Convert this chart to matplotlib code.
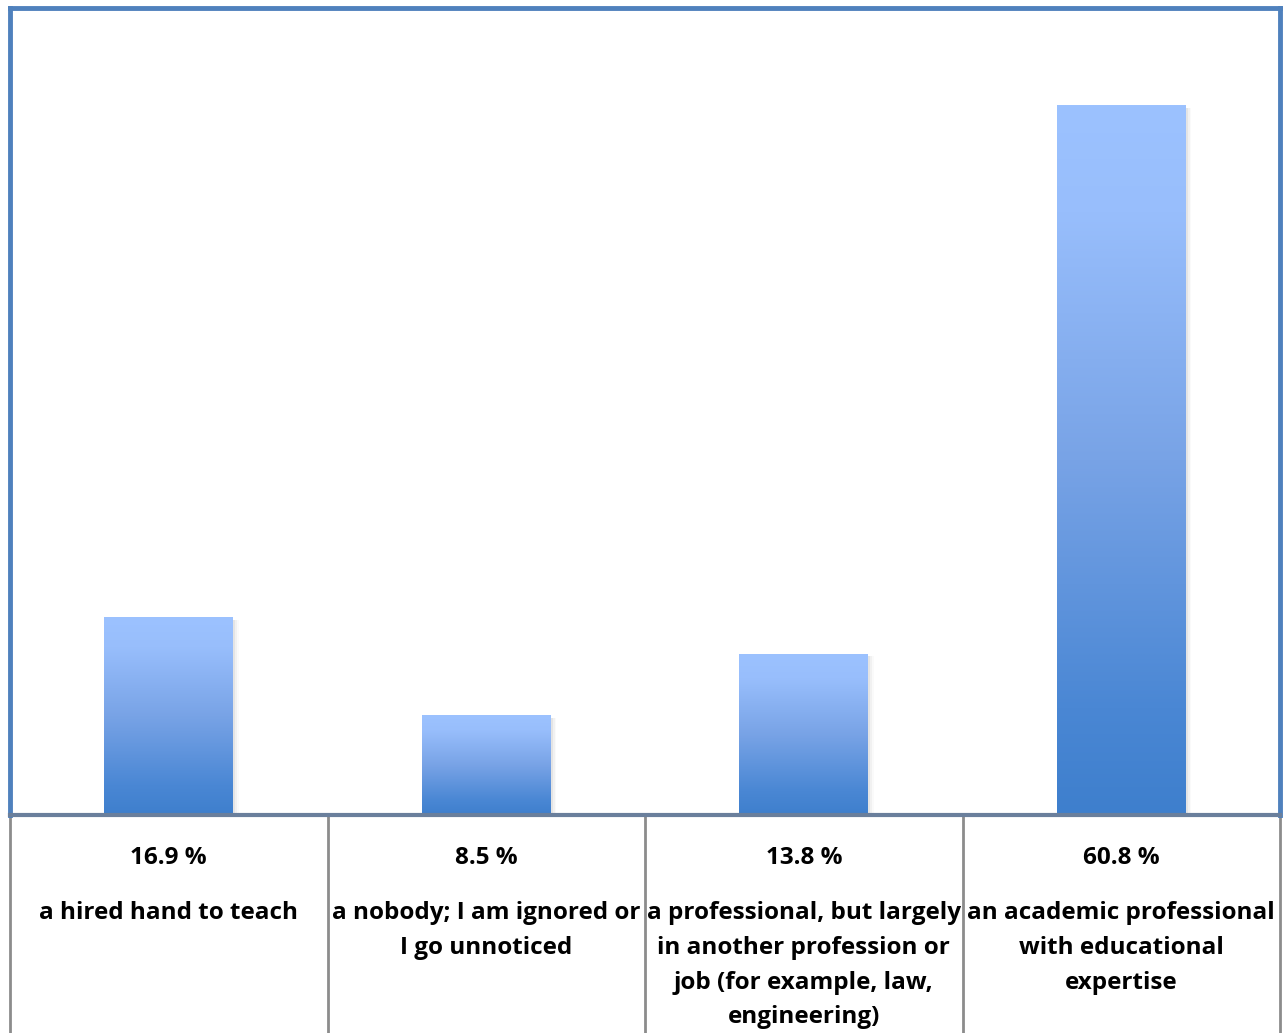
import numpy as np
import matplotlib.pyplot as plt
from matplotlib.colors import LinearSegmentedColormap
from matplotlib.patches import Rectangle
import matplotlib.transforms as mtransforms

plt.rcParams['font.family'] = ['Open Sans', 'DejaVu Sans']

categories = ['a hired hand to teach',
              'a nobody; I am ignored or\nI go unnoticed',
              'a professional, but largely\nin another profession or\njob (for example, law,\nengineering)',
              'an academic professional\nwith educational\nexpertise']
values = [16.9, 8.5, 13.8, 60.8]
value_labels = ['16.9 %', '8.5 %', '13.8 %', '60.8 %']

W, H = 1283, 1033
fig = plt.figure(figsize=(W / 100, H / 100), dpi=100)
ax = fig.add_axes([10 / W, (H - 815) / H, 1270 / W, 807 / H])

grad = LinearSegmentedColormap.from_list('bar', [
    (0.0, '#3E7FCD'), (0.15, '#4A87D4'), (0.5, '#78A3E6'),
    (0.85, '#98BEFC'), (1.0, '#9CC2FF')])
bw = 0.406
x = np.arange(len(values))
for xi, v in zip(x, values):
    # soft shadow
    for k, a in enumerate([0.10, 0.07, 0.04]):
        off = 0.006 * (k + 1)
        ax.add_patch(Rectangle((xi - bw / 2 + off, -0.3), bw, v + 0.1,
                               facecolor='#808080', alpha=a, edgecolor='none', zorder=1))
    ax.add_patch(Rectangle((xi - bw / 2, 0), bw, v, facecolor='white',
                           edgecolor='none', zorder=1.5))
    g = np.linspace(0, 1, 256).reshape(-1, 1)
    ax.imshow(g, cmap=grad, origin='lower', aspect='auto', interpolation='bilinear',
              extent=[xi - bw / 2, xi + bw / 2, 0, v], zorder=2)

ax.set_xlim(-0.5, len(values) - 0.5)
ax.set_ylim(0, 69.2)
ax.set_xticks([])
ax.set_yticks([])
for s in ['top', 'left', 'right']:
    ax.spines[s].set_color('#4F81BD')
    ax.spines[s].set_linewidth(3.5)
ax.spines['bottom'].set_color('#6A7F9C')
ax.spines['bottom'].set_linewidth(3)

# table under the chart
trans = mtransforms.blended_transform_factory(ax.transData, ax.transAxes)
ybot = -(H - 815) / 807
for b in np.arange(len(values) + 1) - 0.5:
    ax.plot([b, b], [0, ybot], transform=trans, color='#8C8C8C', lw=2,
            clip_on=False, zorder=0)

for xi, vl, c in zip(x, value_labels, categories):
    ax.text(xi, -(858 - 815) / 807, vl, transform=trans, ha='center', va='center',
            fontsize=17.5, fontweight='bold', color='black')
    ax.text(xi, -(901 - 815) / 807, c, transform=trans, ha='center', va='top',
            fontsize=17.5, fontweight='bold', color='black', linespacing=1.6)

fig.savefig('out.png', dpi=100)
